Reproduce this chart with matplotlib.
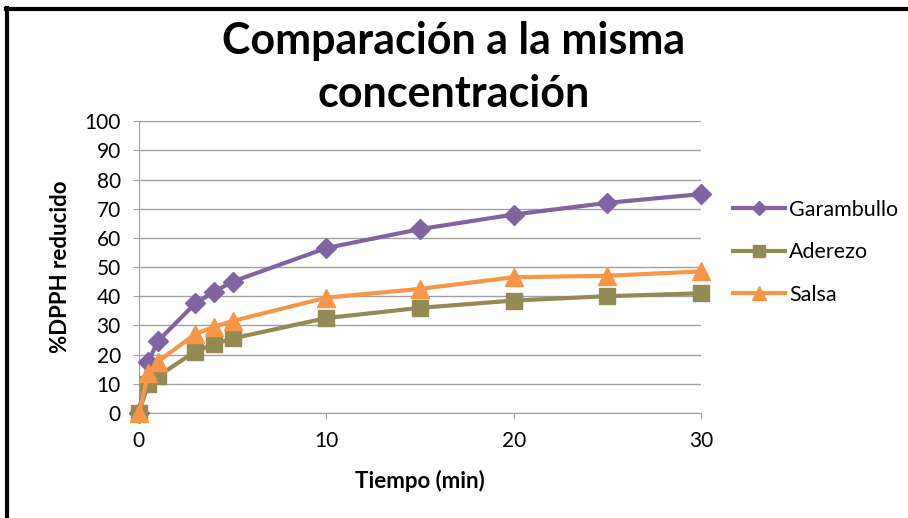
import matplotlib.pyplot as plt
from matplotlib.lines import Line2D

plt.rcParams['font.family'] = ['Lato', 'DejaVu Sans']

tiempo = [0, 0.5, 1, 3, 4, 5, 10, 15, 20, 25, 30]
garambullo = [0, 17.5, 24.5, 37.5, 41.5, 45, 56.5, 63, 68, 72, 75]
aderezo = [0, 10, 12.5, 21, 23.5, 25.5, 32.5, 36, 38.5, 40, 41]
salsa = [0, 13.5, 17.5, 27, 29.5, 31.5, 39.5, 42.5, 46.5, 47, 48.5]

series = [
    ('Garambullo', garambullo, '#8064A2', 'D', 10),
    ('Aderezo', aderezo, '#948A54', 's', 12),
    ('Salsa', salsa, '#F79646', '^', 13),
]

fig = plt.figure(figsize=(9.08, 5.18), dpi=100)
ax = fig.add_axes([0.153, 0.203, 0.619, 0.563])

for name, vals, color, marker, ms in series:
    ax.plot(tiempo, vals, color=color, lw=3, marker=marker, ms=ms,
            clip_on=False, zorder=3, label=name)

ax.set_xlim(0, 30)
ax.set_ylim(0, 100)
ax.set_xticks([0, 10, 20, 30])
ax.set_yticks(range(0, 101, 10))
ax.yaxis.grid(True, color='#a0a0a0', lw=1)
ax.set_axisbelow(True)
for s in ['top', 'right']:
    ax.spines[s].set_visible(False)
for s in ['left', 'bottom']:
    ax.spines[s].set_color('#a0a0a0')
ax.tick_params(axis='both', colors='#a0a0a0', labelcolor='black',
               labelsize=15, length=4)
ax.tick_params(axis='y', pad=9)
ax.tick_params(axis='x', pad=9)

ax.set_xlabel('Tiempo (min)', fontsize=16, fontweight='bold', labelpad=14)
ax.set_ylabel('%DPPH reducido', fontsize=16, fontweight='bold', labelpad=10)

fig.text(0.5, 0.869, 'Comparación a la misma\nconcentración', ha='center',
         va='center', fontsize=31, fontweight='bold', linespacing=1.4)

handles = [Line2D([], [], color=c, lw=3, marker=m, ms=ms * 0.75)
           for _, _, c, m, ms in series]
fig.legend(handles, [s[0] for s in series], loc='upper left',
           bbox_to_anchor=(0.798, 0.631), frameon=False, fontsize=15.5,
           handlelength=2.4, labelspacing=1.05, handletextpad=0.2,
           borderaxespad=0, borderpad=0.4)

# left and top frame lines of the chart box
fig.add_artist(plt.Line2D([0.008, 0.008], [0, 0.985], color='black', lw=3,
                          transform=fig.transFigure))
fig.add_artist(plt.Line2D([0.007, 1], [0.983, 0.983], color='black', lw=3,
                          transform=fig.transFigure))

fig.savefig('out.png')
